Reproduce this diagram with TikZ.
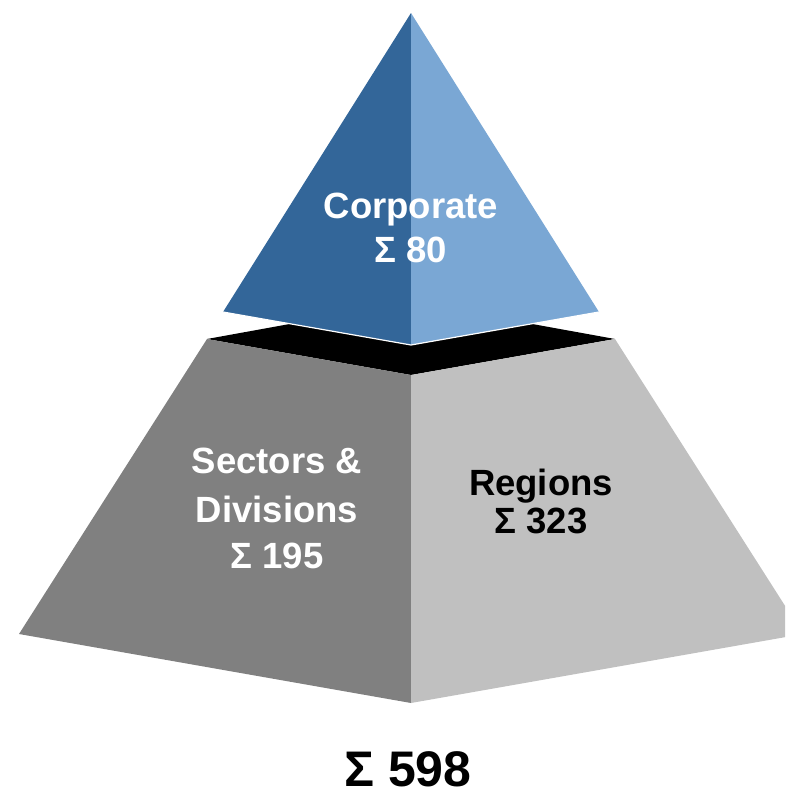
\documentclass[tikz,border=0pt]{standalone}
\usepackage{fontspec}
\setmainfont{Liberation Sans}
\definecolor{bluedark}{HTML}{336699}
\definecolor{bluelight}{HTML}{7AA7D4}
\definecolor{graydark}{HTML}{808080}
\definecolor{graylight}{HTML}{C0C0C0}
\begin{document}
\begin{tikzpicture}[x=1pt,y=-1pt,
  lbl/.style={anchor=base,inner sep=0pt,font=\fontsize{36.5}{44}\selectfont\bfseries},
  facel/.style={fill=graydark},
  facer/.style={fill=graylight}]
\useasboundingbox (0,0) rectangle (785,798);
\begin{scope}
\clip (0,0) rectangle (785,798);
% coordinates
\coordinate (L) at (207,339);
\coordinate (B) at (411,302);
\coordinate (R) at (615,339);
\coordinate (F) at (411,375);
\coordinate (BL) at (19,634);
\coordinate (BF) at (411,703);
\coordinate (BR) at (803,634);
\coordinate (A) at (411,13);
\coordinate (TL) at (223,312);
\coordinate (TF) at (411,345);
\coordinate (TR) at (599,312);
% top face of frustum
\fill[black] (L) -- (B) -- (R) -- (F) -- cycle;
% frustum faces
\fill[facel] (L) -- (F) -- (BF) -- (BL) -- cycle;
\fill[facer] (F) -- (R) -- (BR) -- (BF) -- cycle;
% top pyramid
\fill[bluedark] (A) -- (TL) -- (TF) -- cycle;
\fill[bluelight] (A) -- (TF) -- (TR) -- cycle;
\draw[white,line width=1.2pt] (TL) -- (TF) -- (TR);
\end{scope}
% labels
\node[lbl,white] (corp1) at (411,218) {Corporate};
\node[lbl,white] (corp2) at (411,262) {Σ 80};
\node[lbl,white] (sec1) at (277,473) {Sectors \&};
\node[lbl,white] (sec2) at (277,522) {Divisions};
\node[lbl,white] (sec3) at (277,568) {Σ 195};
\node[lbl,black] (reg1) at (541,495) {Regions};
\node[lbl,black] (reg2) at (541,533) {Σ 323};
\node[anchor=base,inner sep=0pt,font=\fontsize{50}{56}\selectfont\bfseries] (tot) at (408,786) {Σ 598};
\end{tikzpicture}
\end{document}
